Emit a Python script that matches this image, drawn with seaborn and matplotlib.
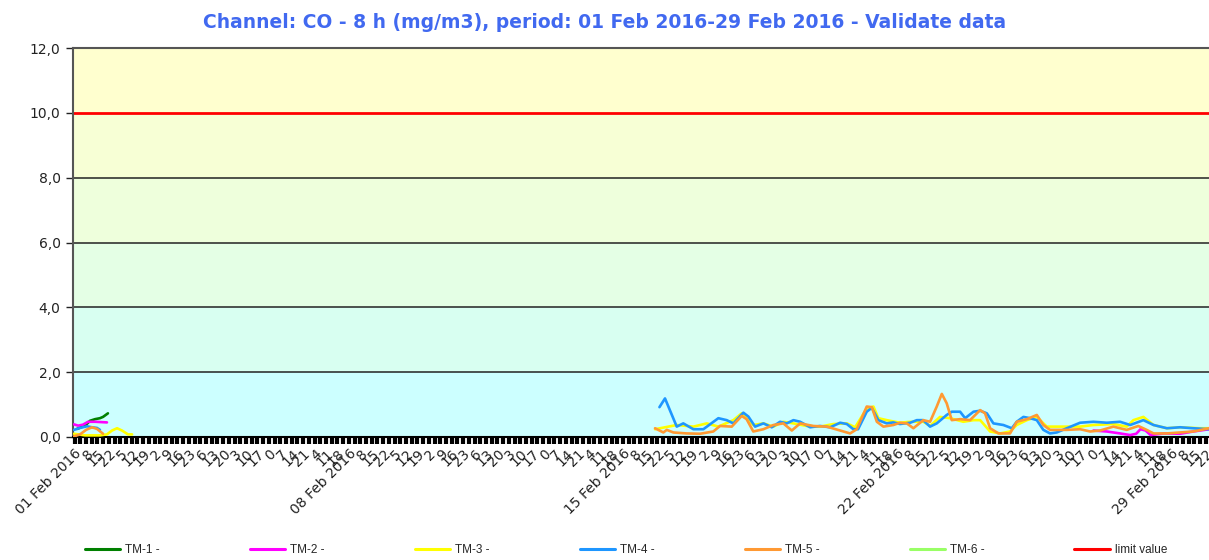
import matplotlib
matplotlib.use("Agg")
import matplotlib.pyplot as plt
from matplotlib.lines import Line2D
from matplotlib.ticker import FuncFormatter
import seaborn as sns
import pandas as pd

# ---------------- data (hours since 01 Feb 2016 00:00) ----------------
series_names = ["TM-1", "TM-2", "TM-3", "TM-4", "TM-5", "TM-6"]

tm1_h = [2.5, 7.4, 10.4, 13.5, 16.5, 18.4, 21.4]
tm1_v = [0.25, 0.35, 0.50, 0.55, 0.58, 0.62, 0.73]

tm2_h_a = [0.6, 3.1, 6.1, 9.2, 13.5, 20.8]
tm2_v_a = [0.39, 0.35, 0.38, 0.47, 0.47, 0.45]
tm2_h_b = [625.2, 633.4, 641.5, 647.7, 651.4, 654.0, 657.1, 660.2, 668.4, 678.3, 686.3, 696.1]
tm2_v_b = [0.20, 0.17, 0.11, 0.06, 0.10, 0.24, 0.20, 0.06, 0.11, 0.10, 0.17, 0.24]

tm3_h_a = [0.6, 7.4, 16.5, 20.8, 23.9, 27.0, 30.0, 33.7, 36.2]
tm3_v_a = [0.10, 0.05, 0.05, 0.08, 0.20, 0.27, 0.20, 0.08, 0.08]
tm3_h_b = [356.6, 369.9, 380.1, 388.3, 395.4, 404.6, 409.7, 416.8, 423.0, 429.1,
           435.2, 441.4, 449.6, 457.7, 465.9, 474.1, 479.2, 486.3, 490.4, 493.4,
           498.6, 506.7, 512.9, 521.0, 525.1, 531.2, 537.3, 545.5, 551.7, 555.8,
           561.9, 568.0, 574.1, 578.2, 584.4, 590.5, 596.6, 604.8, 617.0, 625.2,
           637.4, 645.6, 649.7, 655.8, 662.0, 670.2, 678.3, 690.5, 696.1]
tm3_v_b = [0.24, 0.37, 0.32, 0.42, 0.32, 0.52, 0.73, 0.37, 0.42, 0.32,
           0.47, 0.42, 0.34, 0.32, 0.40, 0.42, 0.30, 0.88, 0.94, 0.58,
           0.52, 0.44, 0.47, 0.47, 0.34, 0.62, 0.58, 0.47, 0.52, 0.52,
           0.17, 0.11, 0.17, 0.37, 0.52, 0.62, 0.32, 0.32, 0.32, 0.37,
           0.40, 0.32, 0.52, 0.62, 0.37, 0.27, 0.30, 0.27, 0.27]

tm4_h_a = [0.6, 4.3, 8.6, 11.6, 14.7, 16.5]
tm4_v_a = [0.22, 0.28, 0.33, 0.30, 0.28, 0.22]
tm4_h_b = [359.3, 362.7, 369.9, 373.9, 380.1, 386.2, 395.4, 400.5, 404.6, 410.7,
           413.8, 417.9, 423.0, 428.1, 433.2, 437.3, 441.4, 445.5, 451.6, 457.7,
           463.9, 470.0, 474.1, 478.1, 481.0, 486.3, 489.4, 493.4, 498.6, 502.5,
           506.7, 512.9, 517.0, 520.8, 525.1, 529.2, 535.3, 538.4, 543.5, 546.6,
           551.7, 555.8, 559.9, 563.9, 570.0, 575.2, 578.2, 582.3, 586.4, 590.5,
           594.5, 598.6, 602.7, 608.9, 617.0, 625.2, 633.4, 641.5, 647.7, 655.8,
           662.0, 670.2, 678.3, 686.3, 696.1]
tm4_v_b = [0.92, 1.19, 0.32, 0.42, 0.24, 0.24, 0.58, 0.52, 0.42, 0.75,
           0.63, 0.32, 0.42, 0.30, 0.47, 0.42, 0.52, 0.47, 0.30, 0.34,
           0.30, 0.44, 0.40, 0.24, 0.24, 0.78, 0.90, 0.52, 0.42, 0.45,
           0.40, 0.44, 0.52, 0.52, 0.32, 0.42, 0.68, 0.78, 0.78, 0.58,
           0.78, 0.81, 0.73, 0.42, 0.37, 0.27, 0.47, 0.62, 0.58, 0.52,
           0.22, 0.11, 0.14, 0.27, 0.44, 0.47, 0.44, 0.47, 0.37, 0.52,
           0.37, 0.27, 0.30, 0.27, 0.24]

tm5_h_a = [0.6, 4.3, 8.0, 11.6, 14.7, 18.4]
tm5_v_a = [0.02, 0.08, 0.22, 0.30, 0.25, 0.10]
tm5_h_b = [356.6, 361.7, 363.8, 367.8, 376.0, 384.2, 392.3, 396.4, 403.6, 409.7,
           412.7, 416.8, 423.0, 429.1, 435.2, 440.4, 445.5, 453.6, 461.8, 470.0,
           476.1, 480.2, 486.3, 489.4, 492.5, 496.5, 502.6, 506.7, 510.8, 514.9,
           521.0, 525.1, 529.2, 532.3, 535.3, 538.4, 543.5, 549.6, 555.8, 558.8,
           561.9, 567.0, 574.1, 578.2, 584.4, 590.5, 594.5, 598.6, 608.9, 617.0,
           623.2, 629.3, 637.4, 645.6, 652.7, 657.8, 662.0, 670.2, 678.3, 686.3,
           696.1]
tm5_v_b = [0.27, 0.14, 0.22, 0.14, 0.11, 0.10, 0.17, 0.34, 0.32, 0.65,
           0.55, 0.17, 0.24, 0.37, 0.42, 0.20, 0.42, 0.34, 0.32, 0.20,
           0.11, 0.24, 0.94, 0.92, 0.47, 0.32, 0.37, 0.44, 0.42, 0.27,
           0.52, 0.47, 0.94, 1.33, 1.04, 0.52, 0.55, 0.52, 0.83, 0.73,
           0.27, 0.11, 0.11, 0.47, 0.55, 0.68, 0.37, 0.22, 0.22, 0.24,
           0.17, 0.20, 0.32, 0.22, 0.34, 0.22, 0.11, 0.11, 0.14, 0.17,
           0.27]

limit_value = 10.0
y_ticks = [0, 2, 4, 6, 8, 10, 12]

# ---------------- styling ----------------
colors = {"TM-1": "#008000", "TM-2": "#FF00FF", "TM-3": "#FFFF00",
          "TM-4": "#1E96FF", "TM-5": "#FF9933", "TM-6": "#99FF66"}
limit_color = "#FF0000"
band_colors = ["#CCFFFF", "#D8FFF1", "#E4FFE5", "#EEFFDC", "#F7FFD5", "#FFFFCF"]

sns.set_style("white")
plt.rcParams["font.family"] = ["DejaVu Sans"]

segments = [
    ("TM-1", 0, tm1_h, tm1_v),
    ("TM-2", 0, tm2_h_a, tm2_v_a), ("TM-2", 1, tm2_h_b, tm2_v_b),
    ("TM-3", 0, tm3_h_a, tm3_v_a), ("TM-3", 1, tm3_h_b, tm3_v_b),
    ("TM-4", 0, tm4_h_a, tm4_v_a), ("TM-4", 1, tm4_h_b, tm4_v_b),
    ("TM-5", 0, tm5_h_a, tm5_v_a), ("TM-5", 1, tm5_h_b, tm5_v_b),
]
rows = []
for name, seg, hs, vs in segments:
    for h, v in zip(hs, vs):
        rows.append({"series": name, "seg": seg, "hour": h, "value": v})
df = pd.DataFrame(rows)

fig = plt.figure(figsize=(12.09, 5.6), dpi=100)
ax = fig.add_axes([73 / 1209, 123 / 560, 1136 / 1209, 389 / 560])

# background bands
for i, c in enumerate(band_colors):
    ax.axhspan(y_ticks[i], y_ticks[i + 1], color=c, lw=0, zorder=0)
for y in y_ticks[1:]:
    if y != limit_value:
        ax.axhline(y, color="#222222", lw=1.1, zorder=1)
ax.axhline(limit_value, color=limit_color, lw=2.0, zorder=2)

present = [s for s in series_names if s in df["series"].unique()]
sns.lineplot(data=df, x="hour", y="value", hue="series", units="seg",
             estimator=None, hue_order=present,
             palette={s: colors[s] for s in present},
             lw=1.9, legend=False, ax=ax, zorder=3, sort=False)

ax.set_xlim(0, 696)
ax.set_ylim(0, 12)
ax.set_xlabel("")
ax.set_ylabel("")

# x ticks: every 7 h starting 01:00
major = [1 + 7 * k for k in range(100)]
minor = [4.5 + 7 * k for k in range(99)]
labels = []
for k, h in enumerate(major):
    if k % 24 == 0:
        labels.append(f"{1 + h // 24:02d} Feb 2016")
    else:
        labels.append(str(h % 24))
ax.set_xticks(major)
ax.set_xticklabels(labels, rotation=45, ha="right", rotation_mode="anchor",
                   fontsize=10, color="#222222")
ax.set_xticks(minor, minor=True)
ax.tick_params(axis="x", which="both", direction="out", length=5, width=3,
               color="black", bottom=True, pad=2)

ax.set_yticks(y_ticks)
ax.yaxis.set_major_formatter(FuncFormatter(lambda v, p: f"{v:.1f}".replace(".", ",")))
ax.tick_params(axis="y", direction="out", length=5, width=1, color="#222222",
               labelsize=10, labelcolor="#222222", left=True, pad=4)

for side in ["left", "top"]:
    ax.spines[side].set_color("#555555")
    ax.spines[side].set_linewidth(1.5)
ax.spines["right"].set_visible(False)
ax.spines["bottom"].set_color("black")
ax.spines["bottom"].set_linewidth(1.5)

fig.text(0.5, 1 - 22 / 560,
         "Channel: CO - 8 h (mg/m3), period: 01 Feb 2016-29 Feb 2016 - Validate data",
         ha="center", va="center", fontsize=13.5, fontweight="bold", color="#4169F0")

handles = [Line2D([0], [0], color=colors[s], lw=2.2) for s in series_names]
handles.append(Line2D([0], [0], color=limit_color, lw=2.2))
leg_labels = [f"{s} -" for s in series_names] + ["limit value"]
fig.legend(handles, leg_labels, loc="lower left",
           bbox_to_anchor=(85 / 1209, 0.007, 1082 / 1209, 0.03),
           mode="expand", ncol=7, frameon=False,
           handlelength=3.0, handletextpad=0.4, borderpad=0, borderaxespad=0,
           prop={"family": "Liberation Sans", "size": 8.5})

fig.savefig("out.png", dpi=100)
